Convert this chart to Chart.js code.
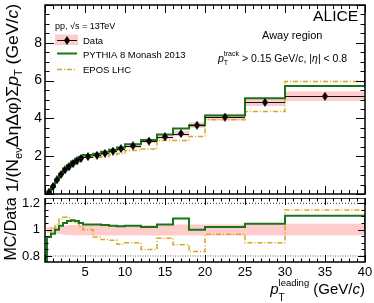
<!DOCTYPE html>
<html>
<head>
<meta charset="utf-8">
<script src="https://cdn.jsdelivr.net/npm/chart.js@4.4.2/dist/chart.umd.min.js"></script>
<style>
  html, body { margin: 0; padding: 0; background: #fff; }
  #wrap { position: relative; width: 374px; height: 303px; }
  canvas { position: absolute; left: 0; }
  #main { top: 0; }
  #ratio { top: 198px; }
</style>
</head>
<body>
<div id="wrap">
  <canvas id="main" width="374" height="198"></canvas>
  <canvas id="ratio" width="374" height="105"></canvas>
</div>
<script>
// p_T leading bins (GeV/c)
const binEdges = [0.25, 0.75, 1.25, 1.75, 2.25, 2.75, 3.25, 3.75, 4.25, 4.75, 6, 7, 8, 9, 10, 12, 14, 16, 18, 20, 25, 30, 40];
const overflowEdge = 50;

// 1/(Nev DeltaEta DeltaPhi) Sum pT, away region
const dataVal = [0.10, 0.40, 0.75, 1.03, 1.27, 1.44, 1.61, 1.75, 1.88, 1.98, 2.05, 2.15, 2.27, 2.40, 2.55, 2.80, 3.03, 3.20, 3.64, 4.07, 4.85, 5.17];
const dataSys = [0.005, 0.01, 0.02, 0.035, 0.045, 0.055, 0.065, 0.07, 0.075, 0.08, 0.085, 0.09, 0.095, 0.10, 0.11, 0.12, 0.13, 0.14, 0.15, 0.17, 0.20, 0.25];
const pythiaVal = [0.09, 0.39, 0.75, 1.06, 1.33, 1.53, 1.72, 1.86, 1.97, 2.06, 2.13, 2.23, 2.34, 2.46, 2.63, 2.86, 3.15, 3.47, 3.64, 4.15, 5.07, 5.71];
const eposVal = [0.095, 0.40, 0.78, 1.11, 1.39, 1.57, 1.73, 1.84, 1.92, 1.98, 1.94, 1.99, 2.09, 2.14, 2.30, 2.38, 2.83, 2.83, 3.04, 3.93, 4.37, 5.95];
const pythiaOver = 7.9;
const eposOver = 7.8;

// MC/Data
const pythiaRatio = [0.945, 0.97, 1.0, 1.03, 1.05, 1.065, 1.07, 1.065, 1.05, 1.04, 1.04, 1.035, 1.03, 1.025, 1.03, 1.02, 1.04, 1.085, 1.0, 1.02, 1.045, 1.105];
const eposRatio = [0.95, 1.01, 1.04, 1.08, 1.095, 1.09, 1.075, 1.05, 1.02, 1.0, 0.945, 0.925, 0.92, 0.89, 0.90, 0.85, 0.935, 0.885, 0.835, 0.965, 0.90, 1.15];
const pythiaRatioOver = 1.0;
const eposRatioOver = 1.16;
const ratioBandHi = [1.02, 1.02, 1.025, 1.03, 1.03, 1.035, 1.035, 1.035, 1.035, 1.035, 1.035, 1.035, 1.035, 1.035, 1.035, 1.035, 1.04, 1.04, 1.04, 1.04, 1.04, 1.045];
const ratioBandLo = [0.975, 0.975, 0.97, 0.965, 0.962, 0.96, 0.958, 0.956, 0.955, 0.955, 0.955, 0.955, 0.955, 0.955, 0.955, 0.955, 0.955, 0.955, 0.955, 0.955, 0.955, 0.955];
const ratioRefLines = [1.2, 0.8];

// ticks
const yTickVals = [2, 4, 6, 8];
const yTickLabels = ['2', '4', '6', '8'];
const xTickVals = [5, 10, 15, 20, 25, 30, 35, 40];
const xTickLabels = ['5', '10', '15', '20', '25', '30', '35', '40'];
const ratioTickVals = [0.8, 1, 1.2];
const ratioTickLabels = ['0.8', '1', '1.2'];

const FONT = "'Liberation Sans', Arial, Helvetica, sans-serif";
const GREEN = 'rgb(24, 118, 24)';
const GOLD = 'rgb(218, 165, 32)';
const PINK = 'rgb(255, 204, 204)';
const CLEAR = 'rgba(0,0,0,0)';

Chart.defaults.font.family = FONT;
Chart.defaults.color = '#000';

function histPoints(vals, over) {
  const pts = [{ x: binEdges[0], y: 0 }];
  vals.forEach((v, i) => pts.push({ x: binEdges[i], y: v }));
  pts.push({ x: binEdges[binEdges.length - 1], y: over });
  pts.push({ x: overflowEdge, y: over });
  return pts;
}

function bandPoints(vals) {
  const pts = vals.map((v, i) => ({ x: binEdges[i], y: v }));
  pts.push({ x: binEdges[binEdges.length - 1], y: vals[vals.length - 1] });
  return pts;
}

const dataPoints = dataVal.map((v, i) => ({ x: (binEdges[i] + binEdges[i + 1]) / 2, y: v }));
const sysHi = dataVal.map((v, i) => v + dataSys[i]);
const sysLo = dataVal.map((v, i) => v - dataSys[i]);

// filled diamond marker
const diamond = document.createElement('canvas');
diamond.width = 6;
diamond.height = 9;
(function () {
  const c = diamond.getContext('2d');
  c.fillStyle = '#000';
  c.beginPath();
  c.moveTo(3, 0);
  c.lineTo(6, 4.5);
  c.lineTo(3, 9);
  c.lineTo(0, 4.5);
  c.closePath();
  c.fill();
})();

// text with sub/superscripts
function layoutRich(ctx, parts) {
  let cx = 0, prevStart = 0, prevW = 0;
  const items = [];
  parts.forEach(p => {
    const font = (p.it ? 'italic ' : '') + p.s + 'px ' + FONT;
    ctx.font = font;
    const w = ctx.measureText(p.t).width;
    if (p.stack) {
      items.push({ t: p.t, font, x: prevStart, dy: p.dy || 0 });
      prevW = Math.max(prevW, w);
      cx = prevStart + prevW;
    } else {
      items.push({ t: p.t, font, x: cx, dy: p.dy || 0 });
      prevStart = cx;
      prevW = w;
      cx += w;
    }
  });
  return { items, width: cx };
}

function drawRich(ctx, parts, x, y, align, sx) {
  ctx.save();
  ctx.textAlign = 'left';
  ctx.textBaseline = 'alphabetic';
  ctx.direction = 'ltr';
  const L = layoutRich(ctx, parts);
  ctx.translate(x, y);
  ctx.scale(sx || 1, 1);
  const x0 = align === 'right' ? -L.width : align === 'center' ? -L.width / 2 : 0;
  ctx.fillStyle = '#000';
  L.items.forEach(it => {
    ctx.font = it.font;
    ctx.fillText(it.t, x0 + it.x, it.dy);
  });
  ctx.restore();
}

function drawRotated(ctx, parts, cx, cy, sx) {
  ctx.save();
  ctx.translate(cx, cy);
  ctx.rotate(-Math.PI / 2);
  drawRich(ctx, parts, 0, 0, 'center', sx);
  ctx.restore();
}

// ROOT style frame with inward ticks on all sides
const frameTicks = {
  id: 'frameTicks',
  afterDatasetsDraw(chart, args, o) {
    const { ctx, chartArea: a, scales: { x, y } } = chart;
    ctx.save();
    ctx.strokeStyle = '#000';
    ctx.lineWidth = 1;
    ctx.beginPath();
    for (let i = 0; i <= o.xCount; i++) {
      const px = Math.round(x.getPixelForValue(o.xFrom + i * o.xStep)) + 0.5;
      const len = i % o.xEvery === 0 ? o.xLong : o.xShort;
      ctx.moveTo(px, a.bottom);
      ctx.lineTo(px, a.bottom - len);
      ctx.moveTo(px, a.top);
      ctx.lineTo(px, a.top + len);
    }
    for (let i = 0; i <= o.yCount; i++) {
      const v = o.yFrom + i * o.yStep;
      if (v < y.min || v > y.max) continue;
      const py = Math.round(y.getPixelForValue(v)) + 0.5;
      const len = (i - o.yOffset) % o.yEvery === 0 ? o.yLong : o.yShort;
      ctx.moveTo(a.left, py);
      ctx.lineTo(a.left + len, py);
      ctx.moveTo(a.right, py);
      ctx.lineTo(a.right - len, py);
    }
    ctx.stroke();
    ctx.lineWidth = 1.5;
    ctx.strokeRect(a.left, a.top, a.right - a.left, a.bottom - a.top);
    ctx.restore();
  }
};

// horizontal bin-width bars through the data markers
const dataBars = {
  id: 'dataBars',
  afterDatasetsDraw(chart) {
    const { ctx, scales: { x, y } } = chart;
    ctx.save();
    ctx.strokeStyle = '#111';
    ctx.lineWidth = 1;
    ctx.beginPath();
    dataVal.forEach((v, i) => {
      const py = Math.round(y.getPixelForValue(v)) + 0.5;
      ctx.moveTo(x.getPixelForValue(binEdges[i]), py);
      ctx.lineTo(x.getPixelForValue(binEdges[i + 1]), py);
    });
    ctx.stroke();
    ctx.restore();
  }
};

const mainTexts = {
  id: 'mainTexts',
  afterDraw(chart) {
    const ctx = chart.ctx;
    const S = 16;
    drawRotated(ctx, [
      { t: '1/(N', s: S }, { t: 'ev', s: 10, dy: 4 }, { t: 'ΔηΔφ)Σ', s: S },
      { t: 'p', s: S, it: true }, { t: 'T', s: 10, dy: 4 },
      { t: ' (GeV/', s: S }, { t: 'c', s: S, it: true }, { t: ')', s: S }
    ], 18, 98, 1.1);

    drawRich(ctx, [{ t: 'pp, √s = 13TeV', s: 9 }], 55, 28.5, 'left');

    // legend
    ctx.save();
    ctx.fillStyle = PINK;
    ctx.fillRect(55, 34.5, 23, 10.5);
    ctx.strokeStyle = '#111';
    ctx.lineWidth = 1;
    ctx.beginPath();
    ctx.moveTo(57, 40.5);
    ctx.lineTo(77, 40.5);
    ctx.stroke();
    ctx.drawImage(diamond, 67 - diamond.width / 2, 40.5 - diamond.height / 2);
    ctx.strokeStyle = GREEN;
    ctx.lineWidth = 2;
    ctx.beginPath();
    ctx.moveTo(57, 53.5);
    ctx.lineTo(77, 53.5);
    ctx.stroke();
    ctx.strokeStyle = GOLD;
    ctx.lineWidth = 1.5;
    ctx.setLineDash([5, 2, 1, 2]);
    ctx.beginPath();
    ctx.moveTo(57, 69.5);
    ctx.lineTo(77, 69.5);
    ctx.stroke();
    ctx.restore();
    drawRich(ctx, [{ t: 'Data', s: 9.5 }], 83, 44, 'left');
    drawRich(ctx, [{ t: 'PYTHIA 8 Monash 2013', s: 9.5 }], 83, 57.5, 'left');
    drawRich(ctx, [{ t: 'EPOS LHC', s: 9.5 }], 83, 73, 'left');

    drawRich(ctx, [{ t: 'ALICE', s: 14 }], 313, 21, 'left', 1.12);
    drawRich(ctx, [{ t: 'Away region', s: 10.5 }], 262, 38.5, 'left', 1.05);
    drawRich(ctx, [
      { t: 'p', s: 10.5, it: true }, { t: 'T', s: 7, dy: 3.5 }, { t: 'track', s: 7, dy: -6, stack: true },
      { t: ' > 0.15 GeV/', s: 10.5 }, { t: 'c', s: 10.5, it: true }, { t: ', |', s: 10.5 },
      { t: 'η', s: 10.5, it: true }, { t: '| < 0.8', s: 10.5 }
    ], 218, 61.5, 'left');
  }
};

const ratioTexts = {
  id: 'ratioTexts',
  afterDraw(chart) {
    const ctx = chart.ctx;
    drawRotated(ctx, [{ t: 'MC/Data', s: 16 }], 16, 31, 1);
    drawRich(ctx, [
      { t: 'p', s: 15, it: true }, { t: 'T', s: 10, dy: 7 }, { t: 'leading', s: 9.5, dy: -8, stack: true },
      { t: ' (GeV/', s: 15 }, { t: 'c', s: 15, it: true }, { t: ')', s: 15 }
    ], 365, 96, 'right');
  }
};

const line = (extra) => Object.assign({ pointRadius: 0, fill: false, stepped: true }, extra);
const noPad = s => { s.paddingTop = 0; s.paddingBottom = 0; s.paddingLeft = 0; s.paddingRight = 0; };

new Chart(document.getElementById('main'), {
  type: 'line',
  data: {
    datasets: [
      { data: dataPoints, showLine: false, pointStyle: diamond, pointRadius: 4, borderWidth: 0 },
      line({ data: histPoints(pythiaVal, pythiaOver), borderColor: GREEN, borderWidth: 2 }),
      line({ data: histPoints(eposVal, eposOver), borderColor: GOLD, borderWidth: 1.5, borderDash: [5, 2, 1, 2] }),
      line({ data: bandPoints(sysHi), borderColor: CLEAR, backgroundColor: PINK, fill: '+1' }),
      line({ data: bandPoints(sysLo), borderColor: CLEAR })
    ]
  },
  options: {
    responsive: false,
    animation: false,
    devicePixelRatio: 1,
    events: [],
    layout: { padding: { left: 0, right: 9, top: 5, bottom: 1 } },
    scales: {
      x: { type: 'linear', min: 0, max: 40, display: false },
      y: {
        type: 'linear', min: 0, max: 10,
        grid: { display: false, drawTicks: false },
        border: { display: false },
        ticks: { font: { size: 14 }, padding: 3, autoSkip: false, callback: (v, i) => yTickLabels[i] },
        afterBuildTicks: s => { s.ticks = yTickVals.map(v => ({ value: v })); },
        afterFit: s => { s.width = 45; noPad(s); }
      }
    },
    plugins: {
      legend: { display: false },
      tooltip: { enabled: false },
      frameTicks: { xFrom: 0, xStep: 1, xCount: 40, xEvery: 5, xLong: 8, xShort: 4,
                    yFrom: 0, yStep: 0.5, yCount: 20, yEvery: 4, yOffset: 0, yLong: 9, yShort: 4.5 }
    }
  },
  plugins: [dataBars, frameTicks, mainTexts]
});

new Chart(document.getElementById('ratio'), {
  type: 'line',
  data: {
    datasets: [
      line({ data: histPoints(pythiaRatio, pythiaRatioOver), borderColor: GREEN, borderWidth: 2 }),
      line({ data: histPoints(eposRatio, eposRatioOver), borderColor: GOLD, borderWidth: 1.5, borderDash: [5, 2, 1, 2] }),
      line({ data: [{ x: 0, y: ratioRefLines[0] }, { x: 40, y: ratioRefLines[0] }], stepped: false, borderColor: '#222', borderWidth: 1, borderDash: [1, 2] }),
      line({ data: [{ x: 0, y: ratioRefLines[1] }, { x: 40, y: ratioRefLines[1] }], stepped: false, borderColor: '#999', borderWidth: 1.5, borderDash: [1, 1.5] }),
      line({ data: bandPoints(ratioBandHi), borderColor: CLEAR, backgroundColor: PINK, fill: '+1' }),
      line({ data: bandPoints(ratioBandLo), borderColor: CLEAR })
    ]
  },
  options: {
    responsive: false,
    animation: false,
    devicePixelRatio: 1,
    events: [],
    layout: { padding: { left: 0, right: 9, top: 0, bottom: 0 } },
    scales: {
      x: {
        type: 'linear', min: 0, max: 40,
        grid: { display: false, drawTicks: false },
        border: { display: false },
        ticks: { font: { size: 13 }, padding: 3, autoSkip: false, maxRotation: 0, callback: (v, i) => xTickLabels[i] },
        afterBuildTicks: s => { s.ticks = xTickVals.map(v => ({ value: v })); },
        afterFit: s => { s.height = 41; noPad(s); }
      },
      y: {
        type: 'linear', min: 0.755, max: 1.24,
        grid: { display: false, drawTicks: false },
        border: { display: false },
        ticks: { font: { size: 13 }, padding: 5, autoSkip: false, callback: (v, i) => ratioTickLabels[i] },
        afterBuildTicks: s => { s.ticks = ratioTickVals.map(v => ({ value: v })); },
        afterFit: s => { s.width = 45; noPad(s); }
      }
    },
    plugins: {
      legend: { display: false },
      tooltip: { enabled: false },
      frameTicks: { xFrom: 0, xStep: 1, xCount: 40, xEvery: 5, xLong: 7, xShort: 3.5,
                    yFrom: 0.75, yStep: 0.05, yCount: 9, yEvery: 4, yOffset: 1, yLong: 7, yShort: 3.5 }
    }
  },
  plugins: [frameTicks, ratioTexts]
});
</script>
</body>
</html>
